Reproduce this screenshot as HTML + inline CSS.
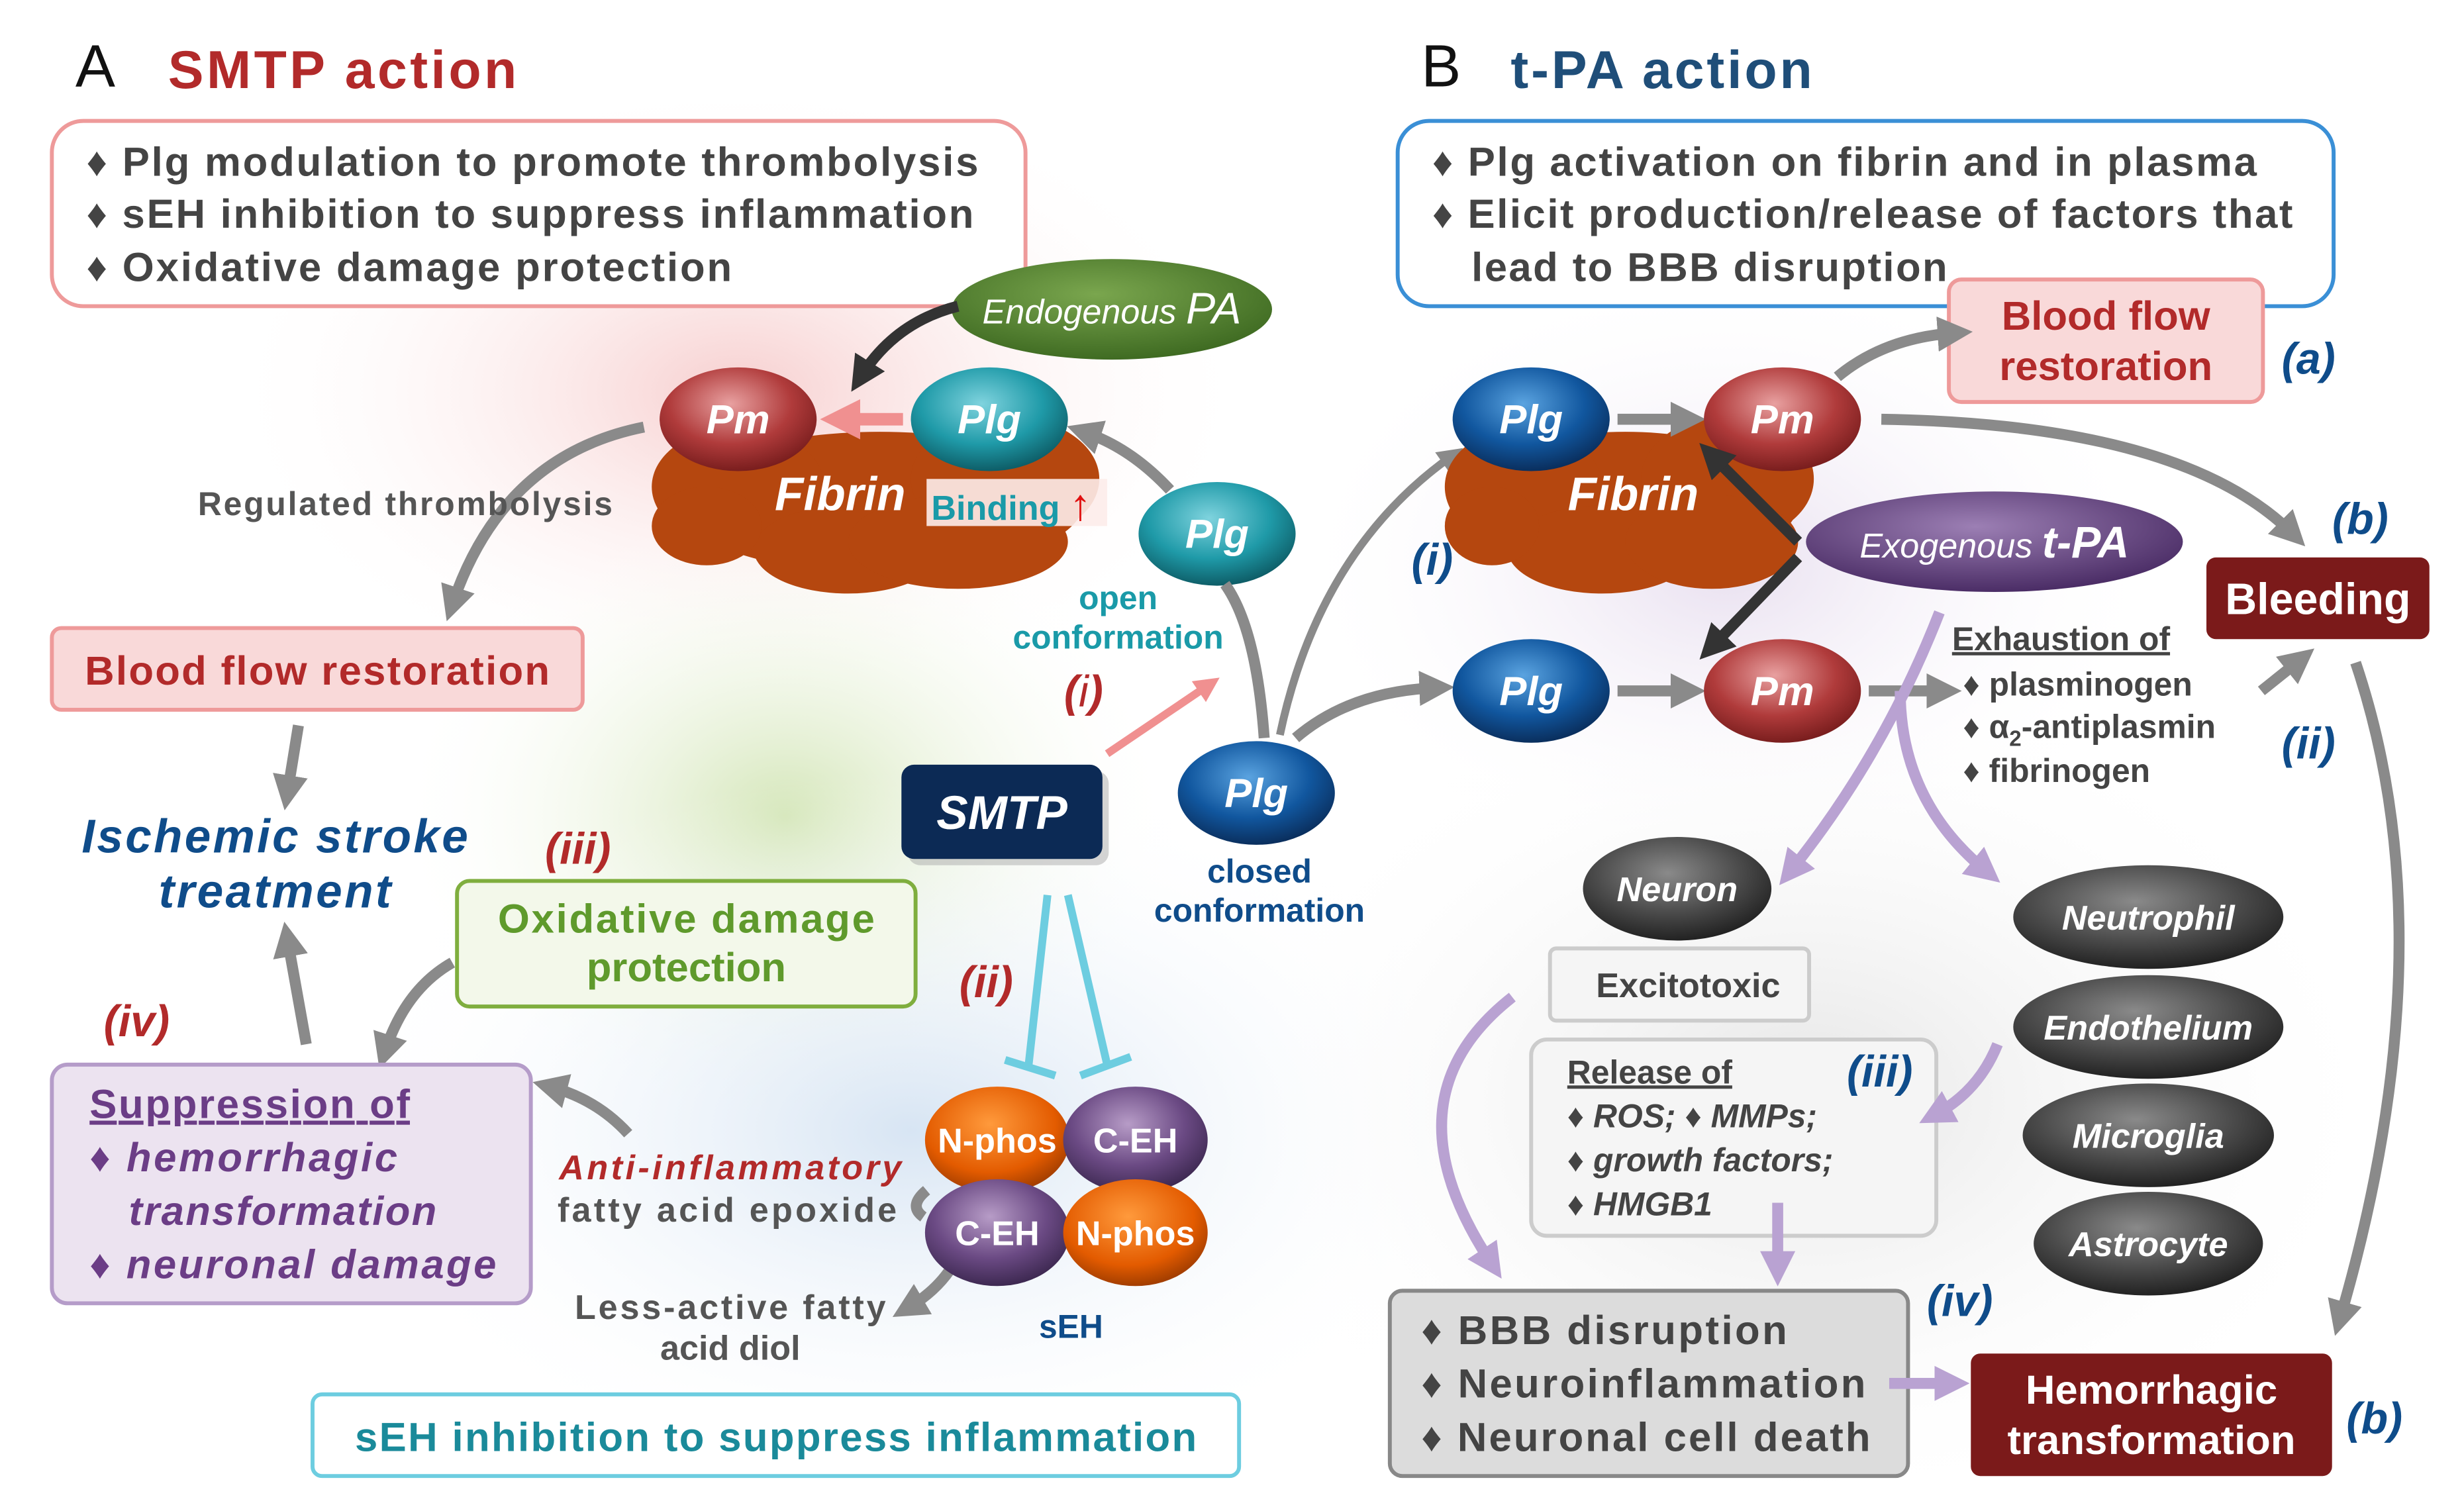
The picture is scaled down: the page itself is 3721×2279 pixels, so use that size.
<!DOCTYPE html>
<html><head><meta charset="utf-8"><style>
html,body{margin:0;padding:0;background:#fff}
svg{display:block}
text{font-family:"Liberation Sans",Arial,sans-serif}
</style></head><body>
<svg width="3721" height="2279" viewBox="0 0 1569 961" xmlns="http://www.w3.org/2000/svg">
<defs>
<radialGradient id="bgPink" cx="0.5" cy="0.5" r="0.5"><stop offset="0" stop-color="#f6c9c9" stop-opacity="0.9"/><stop offset="1" stop-color="#fff" stop-opacity="0"/></radialGradient>
<radialGradient id="bgGreen" cx="0.5" cy="0.5" r="0.5"><stop offset="0" stop-color="#cfe3b0" stop-opacity="0.9"/><stop offset="1" stop-color="#fff" stop-opacity="0"/></radialGradient>
<radialGradient id="bgBlue" cx="0.5" cy="0.5" r="0.5"><stop offset="0" stop-color="#d3e2f2" stop-opacity="0.9"/><stop offset="1" stop-color="#fff" stop-opacity="0"/></radialGradient>
<radialGradient id="bgPurple" cx="0.5" cy="0.5" r="0.5"><stop offset="0" stop-color="#e6dcee" stop-opacity="0.9"/><stop offset="1" stop-color="#fff" stop-opacity="0"/></radialGradient>
<radialGradient id="bgGray" cx="0.5" cy="0.5" r="0.5"><stop offset="0" stop-color="#e2e2e2" stop-opacity="0.9"/><stop offset="1" stop-color="#fff" stop-opacity="0"/></radialGradient>
<radialGradient id="gRed" cx="0.45" cy="0.35" r="0.65"><stop offset="0" stop-color="#e8a0a0"/><stop offset="0.6" stop-color="#b03b3b"/><stop offset="1" stop-color="#7a1e1e"/></radialGradient>
<radialGradient id="gTeal" cx="0.45" cy="0.35" r="0.65"><stop offset="0" stop-color="#7fd3de"/><stop offset="0.6" stop-color="#1f9aa8"/><stop offset="1" stop-color="#0e5e68"/></radialGradient>
<radialGradient id="gBlue" cx="0.45" cy="0.35" r="0.65"><stop offset="0" stop-color="#5aa3e0"/><stop offset="0.6" stop-color="#11579f"/><stop offset="1" stop-color="#0a2f5e"/></radialGradient>
<radialGradient id="gOrange" cx="0.45" cy="0.35" r="0.65"><stop offset="0" stop-color="#ff9a3c"/><stop offset="0.7" stop-color="#e35b00"/><stop offset="1" stop-color="#a33e00"/></radialGradient>
<radialGradient id="gPurp" cx="0.45" cy="0.35" r="0.65"><stop offset="0" stop-color="#b79cc7"/><stop offset="0.6" stop-color="#6b4a84"/><stop offset="1" stop-color="#3e2952"/></radialGradient>
<radialGradient id="gGray" cx="0.45" cy="0.35" r="0.65"><stop offset="0" stop-color="#8a8a8a"/><stop offset="0.6" stop-color="#4a4a4a"/><stop offset="1" stop-color="#222"/></radialGradient>
<radialGradient id="gGreen" cx="0.45" cy="0.35" r="0.65"><stop offset="0" stop-color="#7aa64e"/><stop offset="1" stop-color="#3f6b22"/></radialGradient>
<radialGradient id="gExo" cx="0.45" cy="0.35" r="0.65"><stop offset="0" stop-color="#9c7fb4"/><stop offset="1" stop-color="#4b2d66"/></radialGradient>
<marker id="aG" viewBox="0 0 10 10" refX="5" refY="5" markerWidth="3.2" markerHeight="3.2" orient="auto"><path d="M0,0L10,5L0,10z" fill="#8a8a8a"/></marker>
<marker id="aD" viewBox="0 0 10 10" refX="5" refY="5" markerWidth="3.2" markerHeight="3.2" orient="auto"><path d="M0,0L10,5L0,10z" fill="#333"/></marker>
<marker id="aP" viewBox="0 0 10 10" refX="5" refY="5" markerWidth="3.2" markerHeight="3.2" orient="auto"><path d="M0,0L10,5L0,10z" fill="#f09090"/></marker>
<marker id="aV" viewBox="0 0 10 10" refX="5" refY="5" markerWidth="3.2" markerHeight="3.2" orient="auto"><path d="M0,0L10,5L0,10z" fill="#b9a2d2"/></marker>
</defs>
<rect width="1569" height="961" fill="#fff"/>
<ellipse cx="470" cy="250" rx="330" ry="200" fill="url(#bgPink)"/>
<ellipse cx="500" cy="520" rx="250" ry="200" fill="url(#bgGreen)"/>
<ellipse cx="580" cy="720" rx="380" ry="230" fill="url(#bgBlue)"/>
<ellipse cx="1100" cy="360" rx="280" ry="190" fill="url(#bgPurple)"/>
<ellipse cx="1150" cy="700" rx="380" ry="270" fill="url(#bgGray)"/>

<!-- A header -->
<text x="48" y="55" font-size="38" fill="#111">A</text>
<text x="107" y="56" font-size="34" font-weight="bold" fill="#b22a2a" textLength="222">SMTP action</text>
<rect x="33" y="77" width="620" height="118" rx="20" fill="#fff" stroke="#ee9a9a" stroke-width="2.5"/>
<g font-size="26" font-weight="bold" fill="#444">
<text x="55" y="112" textLength="568">♦ Plg modulation to promote thrombolysis</text>
<text x="55" y="145" textLength="565">♦ sEH inhibition to suppress inflammation</text>
<text x="55" y="179" textLength="411">♦ Oxidative damage protection</text>
</g>

<g fill="#b5470f">
<ellipse cx="560" cy="320" rx="130" ry="45"/><ellipse cx="470" cy="310" rx="55" ry="38"/><ellipse cx="640" cy="305" rx="60" ry="40"/><ellipse cx="540" cy="350" rx="60" ry="28"/><ellipse cx="610" cy="345" rx="70" ry="30"/><ellipse cx="450" cy="335" rx="35" ry="25"/>
</g>
<ellipse cx="708" cy="197" rx="102" ry="32" fill="url(#gGreen)"/>
<text x="708" y="206" font-size="22" font-style="italic" fill="#fff" text-anchor="middle">Endogenous <tspan font-size="28">PA</tspan></text>
<path d="M610,195 Q570,205 548,240" stroke="#333" stroke-width="7" fill="none" marker-end="url(#aD)"/>
<ellipse cx="470" cy="267" rx="50" ry="33" fill="url(#gRed)"/>
<text x="470" y="276" font-size="26" font-weight="bold" font-style="italic" fill="#fff" text-anchor="middle">Pm</text>
<ellipse cx="630" cy="267" rx="50" ry="33" fill="url(#gTeal)"/>
<text x="630" y="276" font-size="26" font-weight="bold" font-style="italic" fill="#fff" text-anchor="middle">Plg</text>
<path d="M575,267 L535,267" stroke="#f09090" stroke-width="8" marker-end="url(#aP)"/>
<text x="535" y="325" font-size="30" font-weight="bold" font-style="italic" fill="#fff" text-anchor="middle">Fibrin</text>
<rect x="590" y="305" width="115" height="30" fill="#fdecea" opacity="0.9"/>
<text x="593" y="331" font-size="22" font-weight="bold" fill="#1a9aa8">Binding <tspan fill="#e01010" font-size="28">↑</tspan></text>
<ellipse cx="775" cy="340" rx="50" ry="33" fill="url(#gTeal)"/>
<text x="775" y="349" font-size="26" font-weight="bold" font-style="italic" fill="#fff" text-anchor="middle">Plg</text>
<path d="M745,312 Q720,285 690,275" stroke="#8a8a8a" stroke-width="7" fill="none" marker-end="url(#aG)"/>
<path d="M805,470 Q800,400 780,372" stroke="#8a8a8a" stroke-width="7" fill="none"/>
<text x="712" y="388" font-size="21" font-weight="bold" fill="#1a9aa8" text-anchor="middle">open</text>
<text x="712" y="413" font-size="21" font-weight="bold" fill="#1a9aa8" text-anchor="middle">conformation</text>
<path d="M815,468 Q840,350 925,290" stroke="#8a8a8a" stroke-width="5" fill="none" marker-end="url(#aG)"/>
<path d="M825,470 Q860,440 915,438" stroke="#8a8a8a" stroke-width="7" fill="none" marker-end="url(#aG)"/>
<ellipse cx="800" cy="505" rx="50" ry="33" fill="url(#gBlue)"/>
<text x="800" y="514" font-size="26" font-weight="bold" font-style="italic" fill="#fff" text-anchor="middle">Plg</text>
<text x="802" y="562" font-size="21" font-weight="bold" fill="#0f4c8a" text-anchor="middle">closed</text>
<text x="802" y="587" font-size="21" font-weight="bold" fill="#0f4c8a" text-anchor="middle">conformation</text>
<rect x="578" y="491" width="128" height="60" rx="8" fill="#aaa" opacity="0.5"/>
<rect x="574" y="487" width="128" height="60" rx="8" fill="#0c2a55"/>
<text x="638" y="528" font-size="30" font-weight="bold" font-style="italic" fill="#fff" text-anchor="middle">SMTP</text>
<text x="690" y="450" font-size="28" font-style="italic" font-weight="bold" fill="#b22a2a" text-anchor="middle">(<tspan font-weight="normal">i</tspan>)</text>
<path d="M705,480 L770,436" stroke="#f09090" stroke-width="5" marker-end="url(#aP)"/>

<path d="M410,272 Q320,290 288,385" stroke="#8a8a8a" stroke-width="7" fill="none" marker-end="url(#aG)"/>
<text x="258" y="328" font-size="21" font-weight="bold" fill="#555" text-anchor="middle" textLength="264">Regulated thrombolysis</text>
<rect x="33" y="400" width="338" height="52" rx="6" fill="#f9d9d9" stroke="#ee9a9a" stroke-width="2.5"/>
<text x="202" y="436" font-size="26" font-weight="bold" fill="#b22a2a" text-anchor="middle" textLength="296">Blood flow restoration</text>
<path d="M190,462 L183,505" stroke="#8a8a8a" stroke-width="7" marker-end="url(#aG)"/>
<text x="175" y="543" font-size="30" font-weight="bold" font-style="italic" fill="#0f4c8a" text-anchor="middle" textLength="246">Ischemic stroke</text>
<text x="175" y="578" font-size="30" font-weight="bold" font-style="italic" fill="#0f4c8a" text-anchor="middle" textLength="148">treatment</text>
<path d="M195,665 L183,598" stroke="#8a8a8a" stroke-width="7" marker-end="url(#aG)"/>
<text x="368" y="550" font-size="28" font-weight="bold" font-style="italic" fill="#b22a2a" text-anchor="middle">(iii)</text>
<rect x="291" y="561" width="292" height="80" rx="8" fill="#f3f8ea" stroke="#7fae3e" stroke-width="2.5"/>
<text x="437" y="594" font-size="26" font-weight="bold" fill="#5f9a2c" text-anchor="middle" textLength="240">Oxidative damage</text>
<text x="437" y="625" font-size="26" font-weight="bold" fill="#5f9a2c" text-anchor="middle">protection</text>
<path d="M288,613 Q258,630 245,670" stroke="#8a8a8a" stroke-width="7" fill="none" marker-end="url(#aG)"/>
<text x="87" y="660" font-size="28" font-weight="bold" font-style="italic" fill="#b22a2a" text-anchor="middle">(iv)</text>
<rect x="33" y="678" width="305" height="152" rx="10" fill="#ece3f0" stroke="#b59cc9" stroke-width="2.5"/>
<g font-size="26" font-weight="bold" fill="#6b3d86">
<text x="57" y="712" text-decoration="underline" textLength="204">Suppression of</text>
<text x="57" y="746" font-style="italic" textLength="196">♦ hemorrhagic</text>
<text x="82" y="780" font-style="italic" textLength="196">transformation</text>
<text x="57" y="814" font-style="italic" textLength="259">♦ neuronal damage</text>
</g>
<path d="M400,722 Q380,700 350,692" stroke="#8a8a8a" stroke-width="7" fill="none" marker-end="url(#aG)"/>
<text x="465" y="751" font-size="22" font-weight="bold" font-style="italic" fill="#b22a2a" text-anchor="middle" textLength="218">Anti-inflammatory</text>
<text x="463" y="778" font-size="22" font-weight="bold" fill="#555" text-anchor="middle" textLength="216">fatty acid epoxide</text>
<text x="465" y="840" font-size="22" font-weight="bold" fill="#555" text-anchor="middle" textLength="198">Less-active fatty</text>
<text x="465" y="866" font-size="22" font-weight="bold" fill="#555" text-anchor="middle">acid diol</text>
<path d="M590,758 Q578,768 588,775" stroke="#8a8a8a" stroke-width="7" fill="none"/>
<path d="M610,800 Q600,820 578,833" stroke="#8a8a8a" stroke-width="7" fill="none" marker-end="url(#aG)"/>
<text x="628" y="635" font-size="28" font-weight="bold" font-style="italic" fill="#b22a2a" text-anchor="middle">(ii)</text>
<g stroke="#6dcde0" stroke-width="5" fill="none">
<path d="M667,570 L655,678 M640,675 L672,685"/>
<path d="M680,570 L705,678 M688,685 L720,673"/>
</g>
<ellipse cx="635" cy="726" rx="46" ry="34" fill="url(#gOrange)"/>
<ellipse cx="723" cy="726" rx="46" ry="34" fill="url(#gPurp)"/>
<ellipse cx="635" cy="785" rx="46" ry="34" fill="url(#gPurp)"/>
<ellipse cx="723" cy="785" rx="46" ry="34" fill="url(#gOrange)"/>
<g font-size="22" font-weight="bold" fill="#fff" text-anchor="middle">
<text x="635" y="734">N-phos</text><text x="723" y="734">C-EH</text><text x="635" y="793">C-EH</text><text x="723" y="793">N-phos</text>
</g>
<text x="682" y="852" font-size="21" font-weight="bold" fill="#0f4c8a" text-anchor="middle">sEH</text>
<rect x="199" y="888" width="590" height="52" rx="6" fill="#fff" stroke="#6dcde0" stroke-width="2.5"/>
<text x="494" y="924" font-size="26" font-weight="bold" fill="#1a8a9a" text-anchor="middle" textLength="536">sEH inhibition to suppress inflammation</text>

<!-- B -->
<text x="905" y="55" font-size="38" fill="#111">B</text>
<text x="962" y="56" font-size="34" font-weight="bold" fill="#1f4e79" textLength="192">t-PA action</text>
<rect x="890" y="77" width="596" height="118" rx="20" fill="#fff" stroke="#3a8fd6" stroke-width="2.5"/>
<g font-size="26" font-weight="bold" fill="#444">
<text x="912" y="112" textLength="525">♦ Plg activation on fibrin and in plasma</text>
<text x="912" y="145" textLength="548">♦ Elicit production/release of factors that</text>
<text x="937" y="179" textLength="303">lead to BBB disruption</text>
</g>
<rect x="1241" y="178" width="200" height="78" rx="8" fill="#f9d9d9" stroke="#ee9a9a" stroke-width="2.5"/>
<text x="1341" y="210" font-size="26" font-weight="bold" fill="#b22a2a" text-anchor="middle">Blood flow</text>
<text x="1341" y="242" font-size="26" font-weight="bold" fill="#b22a2a" text-anchor="middle">restoration</text>
<text x="1470" y="238" font-size="28" font-weight="bold" font-style="italic" fill="#0f4c8a" text-anchor="middle">(a)</text>
<g fill="#b5470f">
<ellipse cx="1035" cy="320" rx="110" ry="45"/><ellipse cx="970" cy="310" rx="50" ry="38"/><ellipse cx="1100" cy="305" rx="55" ry="40"/><ellipse cx="1020" cy="350" rx="60" ry="28"/><ellipse cx="1090" cy="345" rx="55" ry="30"/><ellipse cx="950" cy="335" rx="30" ry="25"/>
</g>
<ellipse cx="975" cy="267" rx="50" ry="33" fill="url(#gBlue)"/>
<text x="975" y="276" font-size="26" font-weight="bold" font-style="italic" fill="#fff" text-anchor="middle">Plg</text>
<path d="M1030,267 L1075,267" stroke="#8a8a8a" stroke-width="7" marker-end="url(#aG)"/>
<ellipse cx="1135" cy="267" rx="50" ry="33" fill="url(#gRed)"/>
<text x="1135" y="276" font-size="26" font-weight="bold" font-style="italic" fill="#fff" text-anchor="middle">Pm</text>
<text x="1040" y="325" font-size="30" font-weight="bold" font-style="italic" fill="#fff" text-anchor="middle">Fibrin</text>
<path d="M1170,240 Q1200,215 1245,212" stroke="#8a8a8a" stroke-width="7" fill="none" marker-end="url(#aG)"/>
<path d="M1198,267 Q1390,270 1460,340" stroke="#8a8a8a" stroke-width="7" fill="none" marker-end="url(#aG)"/>
<text x="1503" y="340" font-size="28" font-weight="bold" font-style="italic" fill="#0f4c8a" text-anchor="middle">(b)</text>
<path d="M1145,345 L1090,290" stroke="#333" stroke-width="7" marker-end="url(#aD)"/>
<path d="M1145,355 L1090,412" stroke="#333" stroke-width="7" marker-end="url(#aD)"/>
<ellipse cx="1270" cy="345" rx="120" ry="32" fill="url(#gExo)"/>
<text x="1270" y="355" font-size="22" font-style="italic" fill="#fff" text-anchor="middle">Exogenous <tspan font-size="28" font-weight="bold">t-PA</tspan></text>
<text x="912" y="366" font-size="28" font-weight="bold" font-style="italic" fill="#0f4c8a" text-anchor="middle">(i)</text>
<ellipse cx="975" cy="440" rx="50" ry="33" fill="url(#gBlue)"/>
<text x="975" y="449" font-size="26" font-weight="bold" font-style="italic" fill="#fff" text-anchor="middle">Plg</text>
<path d="M1030,440 L1075,440" stroke="#8a8a8a" stroke-width="7" marker-end="url(#aG)"/>
<ellipse cx="1135" cy="440" rx="50" ry="33" fill="url(#gRed)"/>
<text x="1135" y="449" font-size="26" font-weight="bold" font-style="italic" fill="#fff" text-anchor="middle">Pm</text>
<path d="M1190,440 L1238,440" stroke="#8a8a8a" stroke-width="7" marker-end="url(#aG)"/>
<g font-size="21" font-weight="bold" fill="#444">
<text x="1243" y="414" text-decoration="underline">Exhaustion of</text>
<text x="1250" y="443">♦ plasminogen</text>
<text x="1250" y="470">♦ α<tspan font-size="14" dy="5">2</tspan><tspan dy="-5">-antiplasmin</tspan></text>
<text x="1250" y="498">♦ fibrinogen</text>
</g>
<path d="M1440,440 L1465,420" stroke="#8a8a8a" stroke-width="7" marker-end="url(#aG)"/>
<text x="1470" y="483" font-size="28" font-weight="bold" font-style="italic" fill="#0f4c8a" text-anchor="middle">(ii)</text>
<rect x="1405" y="355" width="142" height="52" rx="6" fill="#7b1a1a"/>
<text x="1476" y="391" font-size="28" font-weight="bold" fill="#fff" text-anchor="middle">Bleeding</text>
<path d="M1500,422 Q1560,600 1490,840" stroke="#8a8a8a" stroke-width="7" fill="none" marker-end="url(#aG)"/>
<path d="M1235,390 Q1200,480 1140,555" stroke="#b9a2d2" stroke-width="7" fill="none" marker-end="url(#aV)"/>
<path d="M1210,440 Q1210,510 1265,555" stroke="#b9a2d2" stroke-width="7" fill="none" marker-end="url(#aV)"/>
<ellipse cx="1068" cy="566" rx="60" ry="33" fill="url(#gGray)"/>
<text x="1068" y="574" font-size="22" font-weight="bold" font-style="italic" fill="#fff" text-anchor="middle">Neuron</text>
<g font-size="22" font-weight="bold" font-style="italic" fill="#fff" text-anchor="middle">
<ellipse cx="1368" cy="584" rx="86" ry="33" fill="url(#gGray)"/><text x="1368" y="592">Neutrophil</text>
<ellipse cx="1368" cy="654" rx="86" ry="33" fill="url(#gGray)"/><text x="1368" y="662">Endothelium</text>
<ellipse cx="1368" cy="723" rx="80" ry="33" fill="url(#gGray)"/><text x="1368" y="731">Microglia</text>
<ellipse cx="1368" cy="792" rx="73" ry="33" fill="url(#gGray)"/><text x="1368" y="800">Astrocyte</text>
</g>
<rect x="987" y="604" width="165" height="46" rx="4" fill="#f5f5f5" stroke="#ccc" stroke-width="2.5"/>
<text x="1075" y="635" font-size="22" font-weight="bold" fill="#444" text-anchor="middle">Excitotoxic</text>
<rect x="975" y="662" width="258" height="125" rx="10" fill="#f5f5f5" stroke="#ccc" stroke-width="2.5"/>
<g font-size="21" font-weight="bold" fill="#444">
<text x="998" y="690" text-decoration="underline">Release of</text>
<text x="998" y="718" font-style="italic">♦ ROS; ♦ MMPs;</text>
<text x="998" y="746" font-style="italic">♦ growth factors;</text>
<text x="998" y="774" font-style="italic">♦ HMGB1</text>
</g>
<text x="1197" y="692" font-size="28" font-weight="bold" font-style="italic" fill="#0f4c8a" text-anchor="middle">(iii)</text>
<path d="M1272,665 Q1260,695 1232,710" stroke="#b9a2d2" stroke-width="7" fill="none" marker-end="url(#aV)"/>
<path d="M963,635 Q880,700 950,805" stroke="#b9a2d2" stroke-width="7" fill="none" marker-end="url(#aV)"/>
<path d="M1132,766 L1132,808" stroke="#b9a2d2" stroke-width="7" marker-end="url(#aV)"/>
<rect x="885" y="822" width="330" height="118" rx="8" fill="#dcdcdc" stroke="#888" stroke-width="2.5"/>
<g font-size="26" font-weight="bold" fill="#444">
<text x="905" y="856" textLength="233">♦ BBB disruption</text>
<text x="905" y="890" textLength="283">♦ Neuroinflammation</text>
<text x="905" y="924" textLength="286">♦ Neuronal cell death</text>
</g>
<text x="1248" y="838" font-size="28" font-weight="bold" font-style="italic" fill="#0f4c8a" text-anchor="middle">(iv)</text>
<path d="M1203,881 L1243,881" stroke="#b9a2d2" stroke-width="7" marker-end="url(#aV)"/>
<rect x="1255" y="862" width="230" height="78" rx="6" fill="#7b1a1a"/>
<text x="1370" y="894" font-size="26" font-weight="bold" fill="#fff" text-anchor="middle">Hemorrhagic</text>
<text x="1370" y="926" font-size="26" font-weight="bold" fill="#fff" text-anchor="middle">transformation</text>
<text x="1512" y="913" font-size="28" font-weight="bold" font-style="italic" fill="#0f4c8a" text-anchor="middle">(b)</text>
</svg>
</body></html>
